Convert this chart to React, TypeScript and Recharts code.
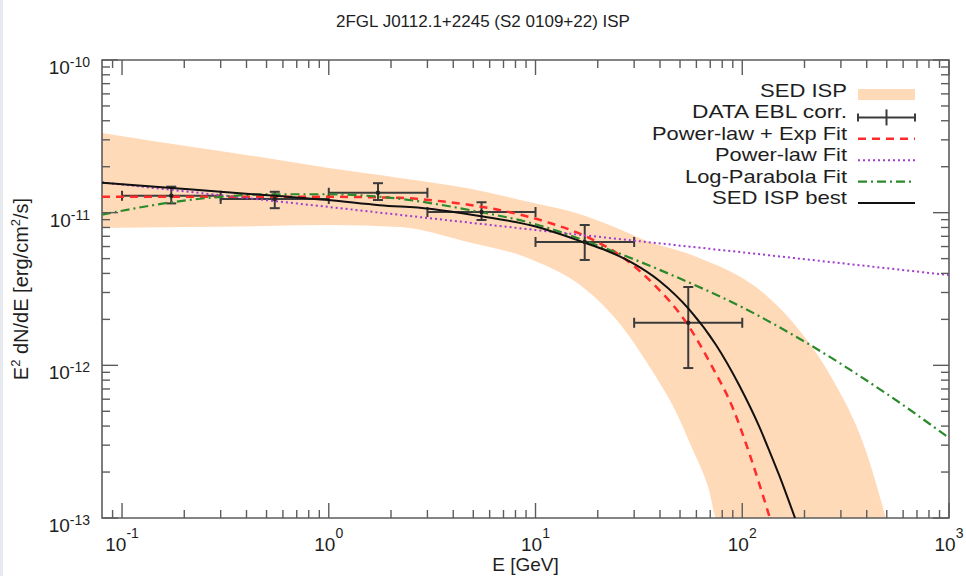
import { ComposedChart, XAxis, YAxis, Area, Line, Scatter, ErrorBar, ReferenceArea } from 'recharts';

const W = 966;
const H = 576;
const PLOT_LEFT = 102;
const PLOT_RIGHT = 949;
const PLOT_TOP = 60;
const PLOT_BOTTOM = 518;
const FONT = '"Liberation Sans", Arial, Helvetica, sans-serif';
const FRAME = '#5c5c5c';
const INK = '#1e1e1e';

// Fermi-LAT points, EBL corrected (E in GeV, flux in erg/cm2/s)
const dataE = [0.173, 0.548, 1.73, 5.48, 17.3, 54.8];
const dataEmin = [0.1, 0.3, 1, 3, 10, 30];
const dataEmax = [0.3, 1, 3, 10, 30, 100];
const dataFlux = [1.29e-11, 1.23e-11, 1.35e-11, 1.01e-11, 6.43e-12, 1.9e-12];
const dataFluxLo = [1.15e-11, 1.07e-11, 1.21e-11, 8.95e-12, 4.9e-12, 9.6e-13];
const dataFluxHi = [1.48e-11, 1.37e-11, 1.56e-11, 1.17e-11, 8.3e-12, 3.26e-12];

// SED ISP uncertainty band
const bandE = [0.08, 0.2, 0.5, 1, 2.2, 4.64, 9.7, 16.9, 24.7, 35.6, 48, 57, 69, 75, 100, 130, 188, 271, 395, 495];
const bandLow = [
  7.94e-12, 8.05e-12, 8.18e-12, 8.3e-12, 8.05e-12, 6.45e-12, 4.9e-12, 3.26e-12, 1.98e-12, 9.8e-13,
  4.9e-13, 2.9e-13, 1.53e-13, 1e-13, 1e-13, 1e-13, 1e-13, 1e-13, 1e-13, 1e-13,
];
const bandHigh = [
  3.33e-11, 2.74e-11, 2.28e-11, 1.96e-11, 1.69e-11, 1.45e-11, 1.16e-11, 9.66e-12, 7.94e-12, 6.43e-12,
  5.7e-12, 5.29e-12, 4.75e-12, 4.55e-12, 3.73e-12, 2.89e-12, 1.71e-12, 8.26e-13, 2.79e-13, 1.0e-13,
];

// SED ISP best
const bestE = [
  0.08, 0.174, 0.3, 0.55, 1, 1.76, 3.07, 5.36, 9.7, 16.9, 22.3, 29.4, 39.8, 55.6, 74.7, 96.8, 121, 135, 151, 165, 180,
];
const bestFlux = [
  1.57e-11, 1.45e-11, 1.37e-11, 1.29e-11, 1.21e-11, 1.12e-11, 1.06e-11, 9.5e-12, 8.2e-12, 6.43e-12,
  5.61e-12, 4.69e-12, 3.57e-12, 2.31e-12, 1.36e-12, 7.38e-13, 3.95e-13, 2.77e-13, 1.9e-13, 1.38e-13, 1.0e-13,
];

// power-law with exponential cutoff
const cutoffE = [0.08, 0.3, 1, 2.2, 3.84, 6.7, 11.7, 16.9, 27.5, 36.7, 53.7, 71.5, 89.5, 108, 131, 136];
const cutoffFlux = [
  1.27e-11, 1.27e-11, 1.27e-11, 1.25e-11, 1.17e-11, 1.04e-11, 8.57e-12, 7.15e-12, 4.9e-12, 3.47e-12,
  1.9e-12, 9.8e-13, 5.35e-13, 2.67e-13, 1.18e-13, 1.0e-13,
];

// plain power-law
const plE = [0.08, 1, 10, 100, 1000];
const plFlux = [1.58e-11, 1.09e-11, 7.7e-12, 5.5e-12, 3.9e-12];

// log-parabola
const lpE = [0.08, 0.1, 0.2, 0.3, 0.5, 1, 2, 5, 10, 20, 50, 100, 200, 500, 1000];
const lpFlux = [
  9.7e-12, 1.03e-11, 1.2e-11, 1.27e-11, 1.32e-11, 1.32e-11, 1.25e-11, 1.03e-11, 8.4e-12, 6.1e-12,
  3.7e-12, 2.4e-12, 1.43e-12, 6.5e-13, 3.35e-13,
];

const X_TICKS = [
  0.09, 0.1, 0.2, 0.3, 0.4, 0.5, 0.6, 0.7, 0.8, 0.9,
  1, 2, 3, 4, 5, 6, 7, 8, 9,
  10, 20, 30, 40, 50, 60, 70, 80, 90,
  100, 200, 300, 400, 500, 600, 700, 800, 900, 1000,
];
const Y_TICKS = [
  1e-13, 2e-13, 3e-13, 4e-13, 5e-13, 6e-13, 7e-13, 8e-13, 9e-13,
  1e-12, 2e-12, 3e-12, 4e-12, 5e-12, 6e-12, 7e-12, 8e-12, 9e-12,
  1e-11, 2e-11, 3e-11, 4e-11, 5e-11, 6e-11, 7e-11, 8e-11, 9e-11, 1e-10,
];

const LEGEND_LABELS = ['SED ISP', 'DATA EBL corr.', 'Power-law + Exp Fit', 'Power-law Fit', 'Log-Parabola Fit', 'SED ISP best'];
// drawn widths of the legend entries (px)
const LEGEND_WIDTHS = [87, 155, 195, 132, 162, 135];

const points = dataE.map((e, i) => ({
  e,
  flux: dataFlux[i],
  xErr: [e - dataEmin[i], dataEmax[i] - e],
  yErr: [dataFlux[i] - dataFluxLo[i], dataFluxHi[i] - dataFlux[i]],
}));
const band = bandE.map((e, i) => ({ e, range: [bandLow[i], bandHigh[i]] }));
const best = bestE.map((e, i) => ({ e, flux: bestFlux[i] }));
const cutoff = cutoffE.map((e, i) => ({ e, flux: cutoffFlux[i] }));
const powerLaw = plE.map((e, i) => ({ e, flux: plFlux[i] }));
const logParabola = lpE.map((e, i) => ({ e, flux: lpFlux[i] }));

const decade = (v: number) => {
  const l = Math.log10(v);
  return Math.abs(l - Math.round(l)) < 1e-9;
};

function XTick({ x, y, payload }: any) {
  const v = payload.value;
  const major = decade(v);
  const len = major ? 15 : 8;
  const h = PLOT_BOTTOM - PLOT_TOP;
  return (
    <g>
      <line x1={x} x2={x} y1={y} y2={y - len} stroke={FRAME} strokeWidth={1.4} />
      <line x1={x} x2={x} y1={y - h} y2={y - h + len} stroke={FRAME} strokeWidth={1.4} />
      {major && (
        <text x={x} y={y + 33} textAnchor="middle" fontFamily={FONT} fontSize={19} fill={INK}>
          10<tspan dy={-13} fontSize={14}>{Math.round(Math.log10(v))}</tspan>
        </text>
      )}
    </g>
  );
}

function YTick({ x, y, payload }: any) {
  const v = payload.value;
  const major = decade(v);
  const len = major ? 16 : 8;
  const w = PLOT_RIGHT - PLOT_LEFT;
  return (
    <g>
      <line x1={x} x2={x + len} y1={y} y2={y} stroke={FRAME} strokeWidth={1.4} />
      <line x1={x + w} x2={x + w - len} y1={y} y2={y} stroke={FRAME} strokeWidth={1.4} />
      {major && (
        <text x={x - 12} y={y + 14} textAnchor="end" fontFamily={FONT} fontSize={19} fill={INK}>
          10<tspan dy={-7} fontSize={14}>{Math.round(Math.log10(v))}</tspan>
        </text>
      )}
    </g>
  );
}

function LegendSample({ i, y }: { i: number; y: number }) {
  const x1 = 858;
  const x2 = 915;
  if (i === 0) return <rect x={x1} y={y - 7} width={x2 - x1} height={11} fill="#FFDAB9" />;
  if (i === 1)
    return (
      <g stroke="#3b3b3b" strokeWidth={2}>
        <line x1={x1} x2={x2} y1={y} y2={y} />
        <line x1={x1} x2={x1} y1={y - 4} y2={y + 4} />
        <line x1={x2} x2={x2} y1={y - 4} y2={y + 4} />
        <line x1={(x1 + x2) / 2} x2={(x1 + x2) / 2} y1={y - 8} y2={y + 8} />
      </g>
    );
  const styles = [
    null,
    null,
    { stroke: '#ff2b2b', dash: '8 6', w: 2.5 },
    { stroke: '#a03ccc', dash: '2 3', w: 2 },
    { stroke: '#2b8a2b', dash: '9 4 2 4', w: 2.2 },
    { stroke: '#111', dash: undefined, w: 2 },
  ];
  const s = styles[i]!;
  return <line x1={x1} x2={x2} y1={y} y2={y} stroke={s.stroke} strokeWidth={s.w} strokeDasharray={s.dash} />;
}

function Annotations() {
  return (
    <svg width={W} height={H} style={{ position: 'absolute', left: 0, top: 0, pointerEvents: 'none' }}>
      <text x={W / 2} y={27} textAnchor="middle" fontFamily={FONT} fontSize={17} fill={INK}>
        2FGL J0112.1+2245 (S2 0109+22) ISP
      </text>
      <text
        transform={`translate(28, ${(PLOT_TOP + PLOT_BOTTOM) / 2}) rotate(-90)`}
        textAnchor="middle"
        fontFamily={FONT}
        fontSize={20}
        fill={INK}
      >
        E<tspan dy={-8} fontSize={13}>2</tspan>
        <tspan dy={8}> dN/dE [erg/cm</tspan>
        <tspan dy={-8} fontSize={13}>2</tspan>
        <tspan dy={8}>/s]</tspan>
      </text>
      <text x={(PLOT_LEFT + PLOT_RIGHT) / 2} y={571} textAnchor="middle" fontFamily={FONT} fontSize={19} fill={INK}>
        E [GeV]
      </text>
      {LEGEND_LABELS.map((label, i) => {
        const base = 97 + 21.4 * i;
        return (
          <g key={label}>
            <text
              x={847}
              y={base}
              textAnchor="end"
              fontFamily={FONT}
              fontSize={19}
              fill={INK}
              textLength={LEGEND_WIDTHS[i]}
              lengthAdjust="spacingAndGlyphs"
            >
              {label}
            </text>
            <LegendSample i={i} y={base - 1} />
          </g>
        );
      })}
    </svg>
  );
}

export default function App() {
  return (
    <div style={{ position: 'absolute', left: 0, top: 0, width: W, height: H, background: '#fff', overflow: 'hidden' }}>
      <div style={{ position: 'absolute', left: 0, top: 0, width: 3, height: H, background: '#e6e9ee' }} />
      <ComposedChart width={W} height={H} margin={{ top: PLOT_TOP, right: W - PLOT_RIGHT, bottom: 0, left: 0 }}>
        <XAxis
          type="number"
          dataKey="e"
          scale="log"
          domain={[0.08, 1000]}
          ticks={X_TICKS}
          interval={0}
          allowDataOverflow
          height={H - PLOT_BOTTOM}
          tickSize={0}
          tickMargin={0}
          axisLine={false}
          tick={<XTick />}
        />
        <YAxis
          type="number"
          scale="log"
          domain={[1e-13, 1e-10]}
          ticks={Y_TICKS}
          interval={0}
          allowDataOverflow
          width={PLOT_LEFT}
          tickSize={0}
          tickMargin={0}
          axisLine={false}
          tick={<YTick />}
        />
        <Area
          data={band}
          dataKey="range"
          type="monotone"
          stroke="none"
          fill="#FFDAB9"
          fillOpacity={1}
          isAnimationActive={false}
        />
        <Scatter
          data={points}
          dataKey="flux"
          isAnimationActive={false}
          shape={(p: any) => <circle cx={p.cx} cy={p.cy} r={2.2} fill="#222" />}
        >
          <ErrorBar dataKey="xErr" direction="x" width={5} stroke="#3b3b3b" strokeWidth={2} isAnimationActive={false} />
          <ErrorBar dataKey="yErr" direction="y" width={5} stroke="#3b3b3b" strokeWidth={2} isAnimationActive={false} />
        </Scatter>
        <Line
          data={cutoff}
          dataKey="flux"
          type="monotone"
          stroke="#ff2b2b"
          strokeWidth={2.5}
          strokeDasharray="8 6"
          dot={false}
          isAnimationActive={false}
        />
        <Line
          data={powerLaw}
          dataKey="flux"
          type="linear"
          stroke="#a03ccc"
          strokeWidth={2}
          strokeDasharray="2 3"
          dot={false}
          isAnimationActive={false}
        />
        <Line
          data={logParabola}
          dataKey="flux"
          type="monotone"
          stroke="#2b8a2b"
          strokeWidth={2.2}
          strokeDasharray="9 4 2 4"
          dot={false}
          isAnimationActive={false}
        />
        <Line
          data={best}
          dataKey="flux"
          type="monotone"
          stroke="#111"
          strokeWidth={2}
          dot={false}
          isAnimationActive={false}
        />
        <ReferenceArea
          x1={0.08}
          x2={1000}
          y1={1e-13}
          y2={1e-10}
          fill="none"
          stroke={FRAME}
          strokeWidth={1.6}
          ifOverflow="visible"
        />
      </ComposedChart>
      <Annotations />
    </div>
  );
}
